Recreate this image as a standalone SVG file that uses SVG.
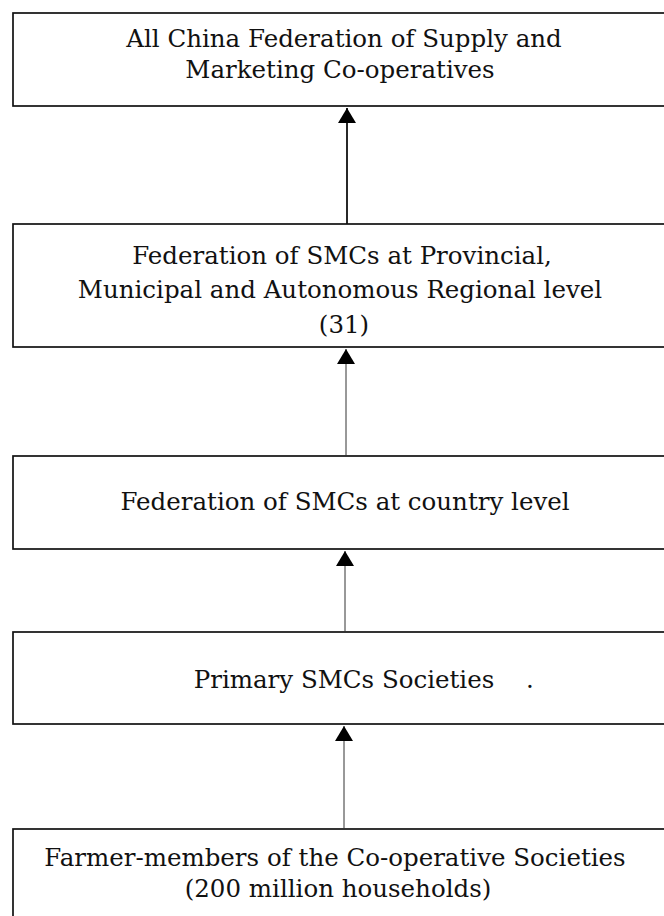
<svg xmlns="http://www.w3.org/2000/svg" width="664" height="916" viewBox="0 0 664 916">
<style>
.box{fill:#fff;stroke:#111;stroke-width:1.7}
.t{font-family:"DejaVu Serif","Liberation Serif",serif;font-size:24.5px;fill:#111;text-anchor:middle}
.c{stroke:#333;stroke-width:1;fill:none}
</style>
<defs>
<marker id="ah" viewBox="0 0 15 18" refX="15" refY="9" markerWidth="15" markerHeight="18" markerUnits="userSpaceOnUse" orient="auto">
<polygon points="0,0 15,9 0,18" fill="#000"/>
</marker>
</defs>
<g id="node1">
<rect class="box" x="13" y="13" width="670" height="93"/>
<text class="t" x="344" y="47">All China Federation of Supply and</text>
<text class="t" x="340" y="78">Marketing Co-operatives</text>
</g>
<g id="node2">
<rect class="box" x="13" y="224" width="670" height="123"/>
<text class="t" x="342" y="264">Federation of SMCs at Provincial,</text>
<text class="t" x="340" y="298">Municipal and Autonomous Regional level</text>
<text class="t" x="344" y="333">(31)</text>
</g>
<g id="node3">
<rect class="box" x="13" y="456" width="670" height="93"/>
<text class="t" x="345" y="510">Federation of SMCs at country level</text>
</g>
<g id="node4">
<rect class="box" x="13" y="632" width="670" height="92"/>
<text class="t" x="344" y="688">Primary SMCs Societies</text>
<text class="t" x="530" y="688">.</text>
</g>
<g id="node5">
<rect class="box" x="13" y="829" width="670" height="100"/>
<text class="t" x="335" y="866">Farmer-members of the Co-operative Societies</text>
<text class="t" x="338" y="897">(200 million households)</text>
</g>
<g id="connectors">
<line class="c" style="stroke-width:1.8;stroke:#111" x1="347" y1="224" x2="347" y2="108" marker-end="url(#ah)"/>
<line class="c" x1="346" y1="456" x2="346" y2="349" marker-end="url(#ah)"/>
<line class="c" x1="345" y1="632" x2="345" y2="551" marker-end="url(#ah)"/>
<line class="c" x1="344" y1="829" x2="344" y2="726" marker-end="url(#ah)"/>
</g>
</svg>
